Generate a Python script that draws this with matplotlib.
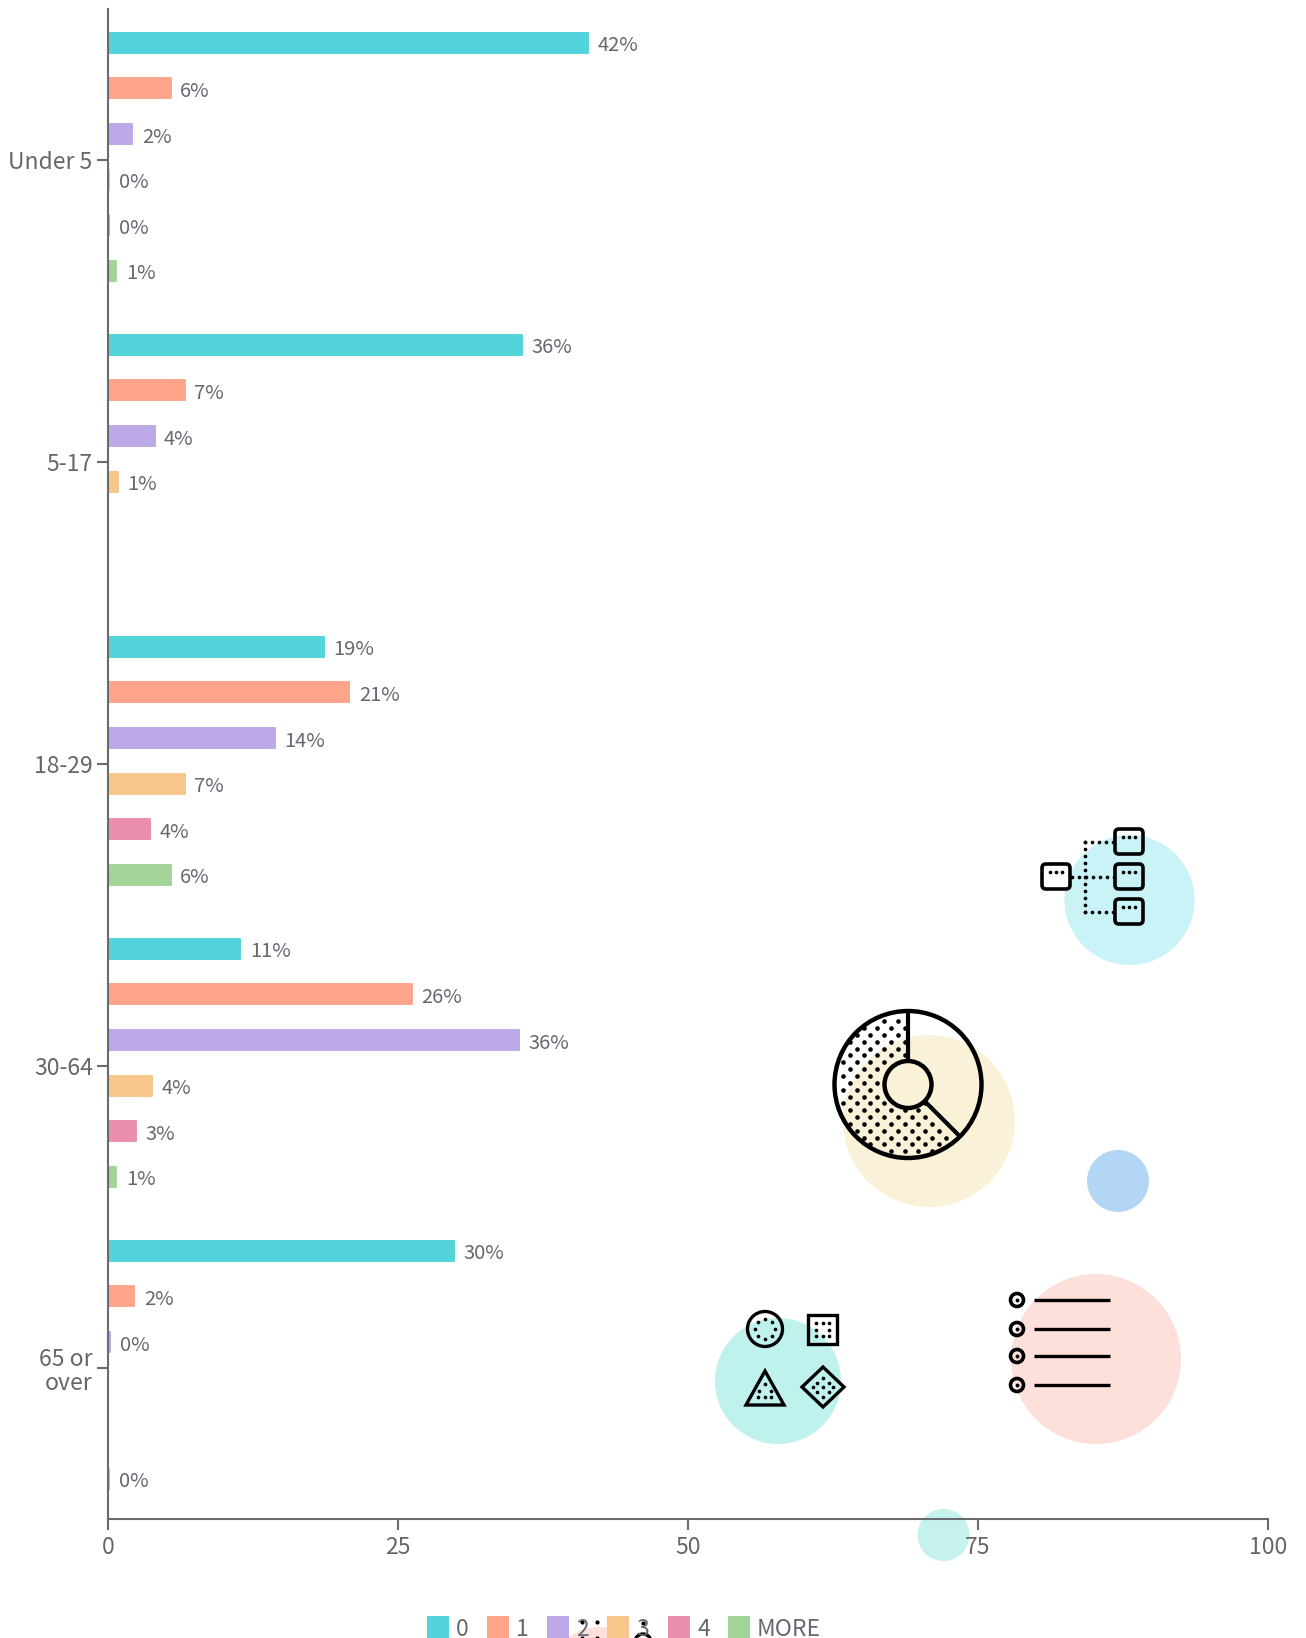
import numpy as np
import matplotlib
matplotlib.use('Agg')
import matplotlib.pyplot as plt
from matplotlib.patches import Circle, Rectangle, FancyBboxPatch, Polygon

plt.rcParams['font.family'] = ['Noto Sans CJK JP', 'DejaVu Sans']

W, H = 1306, 1638

groups = ['Under 5', '5-17', '18-29', '30-64', '65 or\nover']
series = ['0', '1', '2', '3', '4', 'MORE']
colors = ['#52d4da', '#ffa58c', '#bda9e8', '#f6c68a', '#ea8fb0', '#a3d497']

# bar length per group, None where nothing is drawn
vals_0 = [41.5, 35.8, 18.7, 11.5, 29.9]
vals_1 = [5.5, 6.7, 20.9, 26.3, 2.35]
vals_2 = [2.2, 4.1, 14.5, 35.5, 0.3]
vals_3 = [0.2, 0.95, 6.7, 3.9, None]
vals_4 = [0.2, None, 3.75, 2.5, None]
vals_more = [0.8, None, 5.5, 0.8, 0.2]
all_vals = [vals_0, vals_1, vals_2, vals_3, vals_4, vals_more]

labels_0 = ['42%', '36%', '19%', '11%', '30%']
labels_1 = ['6%', '7%', '21%', '26%', '2%']
labels_2 = ['2%', '4%', '14%', '36%', '0%']
labels_3 = ['0%', '1%', '7%', '4%', None]
labels_4 = ['0%', None, '4%', '3%', None]
labels_more = ['1%', None, '6%', '1%', '0%']
all_labels = [labels_0, labels_1, labels_2, labels_3, labels_4, labels_more]

xticks = [0, 25, 50, 75, 100]

grey = '#6b6b6b'
text_c = '#646870'

fig = plt.figure(figsize=(W/100, H/100), dpi=100, facecolor='white')

# overlay in pixel coordinates for the decoration behind/around the chart
deco = fig.add_axes([0, 0, 1, 1], zorder=0)
deco.set_xlim(0, W)
deco.set_ylim(H, 0)
deco.axis('off')

def circ(x, y, r, c):
	deco.add_patch(Circle((x, y), r, fc=c, ec='none'))

circ(1129.5, 900, 65, '#c9f3f7')
circ(929, 1121, 86, '#faf2d8')
circ(1118, 1181, 31, '#b2d6f3')
circ(778, 1381, 63, '#bff2ec')
circ(1096, 1359, 85, '#fde0da')
circ(943.5, 1535, 26, '#c6f2ee')
circ(599, 1676, 49, '#fde0da')

ax = fig.add_axes([108/W, 1-1519/H, 1160/W, 1510/H], zorder=2)
ax.patch.set_alpha(0)
ax.set_xlim(0, 100)
ax.set_ylim(len(groups)-0.5, -0.5)

step = 45.6/302
bar_h = 20/302
shift = -3.2/302
for k, vals in enumerate(all_vals):
	for i, v in enumerate(vals):
		if v is None:
			continue
		y = i + (k-2.5)*step + shift
		bar = ax.barh(y, max(v-0.09, 0.05), height=bar_h, color=colors[k], edgecolor=colors[k], linewidth=1.4)[0]
		bar.set_joinstyle('round')
		ax.annotate(all_labels[k][i], (v, y), xytext=(6.1, -2.2), textcoords='offset points',
			va='center', ha='left', fontsize=14.5, color=text_c)

for s in ['top', 'right']:
	ax.spines[s].set_visible(False)
for s in ['left', 'bottom']:
	ax.spines[s].set_color(grey)
	ax.spines[s].set_linewidth(1.5)

ax.set_xticks(xticks)
ax.set_yticks(range(len(groups)))
ax.set_yticklabels(groups, linespacing=1.1)
ax.tick_params(axis='both', color=grey, width=1.5, length=8, labelsize=16.5, labelcolor='#666666')
ax.tick_params(axis='x', pad=4)
ax.tick_params(axis='y', pad=3)

# icons on top
top = fig.add_axes([0, 0, 1, 1], zorder=3)
top.set_xlim(0, W)
top.set_ylim(H, 0)
top.axis('off')
top.patch.set_alpha(0)

def dots(xs, ys, s=7):
	top.scatter(xs, ys, s=s, c='black', linewidths=0, zorder=5)

def box(x, y, w=28, h=25):
	top.add_patch(FancyBboxPatch((x+3, y+3), w-6, h-6, boxstyle='round,pad=3,rounding_size=4',
		fc='none', ec='black', lw=2.6, zorder=5))
	dots([x+8, x+14, x+20], [y+8, y+8, y+8])

# tree icon
top.add_patch(Rectangle((1042, 864), 28, 25, fc='white', ec='none', zorder=4))
box(1115, 829)
box(1115, 864)
box(1115, 899)
box(1042, 864)
dots(np.arange(1085, 1115, 7), [842]*5)
dots(np.arange(1072, 1115, 7), [877]*7)
dots(np.arange(1085, 1115, 7), [912]*5)
dots([1085]*11, np.arange(842, 914, 7))

# donut icon
cx, cy, R, r = 908, 1084.5, 73.5, 23.5
xx, yy = np.meshgrid(np.arange(cx-65, cx+75, 13.7), np.arange(cy-63.3, cy+72, 6.85))
xx = xx + (np.round((yy-(cy-63.3))/6.85) % 2)*6.85
dist = np.hypot(xx-cx, yy-cy)
ang = np.degrees(np.arctan2(yy-cy, xx-cx))
keep = (dist < R-1) & (dist > r+2) & ((ang > 47) | (ang < -92))
dots(xx[keep], yy[keep], 11)
top.add_patch(Circle((cx, cy), R, fc='none', ec='black', lw=3.2, zorder=6))
top.add_patch(Circle((cx, cy), r, fc='none', ec='black', lw=3.2, zorder=6))
top.plot([cx, cx], [cy-R, cy-r], color='black', lw=3, zorder=6, solid_capstyle='butt')
top.plot([cx+r*0.72, cx+R*0.71], [cy+r*0.72, cy+R*0.71], color='black', lw=3, zorder=6, solid_capstyle='butt')

# shapes icon
top.add_patch(Circle((765, 1329), 17.5, fc='none', ec='black', lw=2.4, zorder=6))
a = np.radians(np.arange(0, 360, 45))
dots(765+10*np.cos(a), 1329+10*np.sin(a))
top.add_patch(Rectangle((808, 1315), 29, 29, fc='none', ec='black', lw=2.4, zorder=6))
gx = [816, 823, 829]
dots([gx[0], gx[1], gx[2], gx[0], gx[2], gx[0], gx[1], gx[2]], [1323, 1323, 1323, 1329.5, 1329.5, 1336, 1336, 1336])
top.add_patch(Polygon([[765, 1371], [746, 1405], [784, 1405]], closed=True, fc='none', ec='black', lw=2.4, zorder=6))
dots([765, 759, 771, 758, 765, 771], [1384, 1391, 1391, 1397, 1397, 1397])
top.add_patch(Polygon([[823, 1367], [844, 1387], [823, 1407], [802, 1387]], closed=True, fc='none', ec='black', lw=2.4, zorder=6))
dots([823, 817, 829, 813, 823, 833, 817, 829, 823], [1378, 1383, 1383, 1387, 1387, 1387, 1392, 1392, 1397])

# list icon
for y in [1300, 1329, 1356, 1385]:
	top.add_patch(Circle((1017, y), 6.5, fc='none', ec='black', lw=2.6, zorder=6))
	dots([1017], [y], 8)
	top.plot([1034, 1110], [y, y], color='black', lw=2.4, zorder=6, solid_capstyle='butt')

# the bit of another icon that pokes up behind the legend
dots([581.7, 596.7, 643, 581.7, 596.7], [1622, 1622, 1623, 1638, 1638], 9)
top.add_patch(Circle((643, 1642), 8, fc='none', ec='black', lw=2.4, zorder=6))

# legend, cut off by the bottom edge
leg_x = [427, 487, 547, 607, 668, 728]
for x, name, c in zip(leg_x, series, colors):
	top.add_patch(Rectangle((x, 1616), 22, 22, fc=c, ec='none', zorder=7))
	top.text(x+29, 1629, name, fontsize=16.5, color=text_c, va='center', ha='left', zorder=8)

fig.savefig('out.png', dpi=100)
